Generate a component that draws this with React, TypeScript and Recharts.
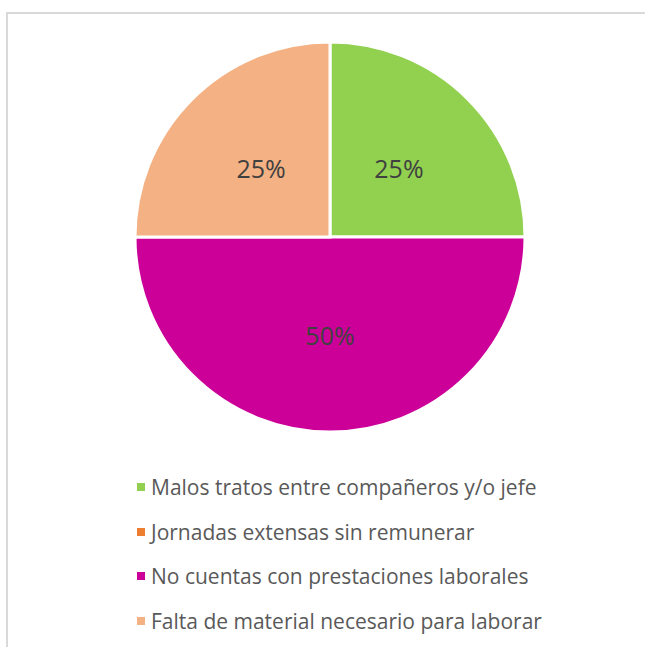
import { PieChart, Pie, Cell } from "recharts";

const categories = [
  "Malos tratos entre compañeros y/o jefe",
  "Jornadas extensas sin remunerar",
  "No cuentas con prestaciones laborales",
  "Falta de material necesario para laborar",
];
const values = [25, 0, 50, 25];
const COLORS = ["#92d050", "#ed7d31", "#cc0099", "#f4b183"];

const data = categories.map((name, i) => ({ name, value: values[i] }));
const total = values.reduce((a, b) => a + b, 0);

const RAD = Math.PI / 180;

function renderLabel(props: any) {
  const { cx, cy, midAngle, outerRadius, value } = props;
  if (!value) return null;
  const r = outerRadius * 0.5;
  const x = cx + r * Math.cos(-midAngle * RAD);
  const y = cy + r * Math.sin(-midAngle * RAD);
  return (
    <text
      x={x}
      y={y}
      fill="#404040"
      fontSize={25}
      textAnchor="middle"
      dominantBaseline="central"
    >
      {`${Math.round((value / total) * 100)}%`}
    </text>
  );
}

function ChartLegend() {
  return (
    <div style={{ position: "absolute", left: 129, top: 451 }}>
      {data.map((d, i) => (
        <div
          key={d.name}
          style={{
            display: "flex",
            alignItems: "center",
            height: 44.5,
            fontSize: 21,
            color: "#595959",
            whiteSpace: "nowrap",
          }}
        >
          <span
            style={{
              display: "inline-block",
              width: 8,
              height: 8,
              background: COLORS[i],
              marginRight: 6,
            }}
          />
          {d.name}
        </div>
      ))}
    </div>
  );
}

export default function App() {
  return (
    <div
      style={{
        position: "absolute",
        left: 6,
        top: 12,
        width: 660,
        height: 660,
        border: "2px solid #d9d9d9",
        background: "#fff",
        fontFamily: "'Open Sans', sans-serif",
      }}
    >
      <PieChart
        width={660}
        height={440}
        margin={{ top: 0, right: 0, bottom: 0, left: 0 }}
      >
        <Pie
          data={data}
          dataKey="value"
          nameKey="name"
          cx={322}
          cy={223}
          outerRadius={195}
          startAngle={90}
          endAngle={-270}
          stroke="#ffffff"
          strokeWidth={3}
          label={renderLabel}
          labelLine={false}
          isAnimationActive={false}
        >
          {data.map((_, i) => (
            <Cell key={`cell-${i}`} fill={COLORS[i]} />
          ))}
        </Pie>
      </PieChart>
      <ChartLegend />
    </div>
  );
}
